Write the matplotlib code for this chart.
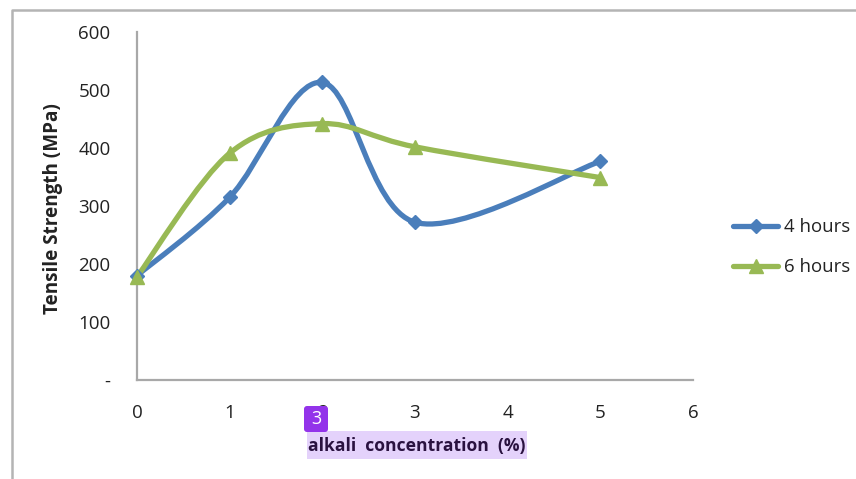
import matplotlib
matplotlib.use("Agg")
import matplotlib.pyplot as plt
from matplotlib.path import Path
from matplotlib.patches import PathPatch, Rectangle, FancyBboxPatch
from matplotlib.lines import Line2D
from matplotlib.transforms import IdentityTransform

plt.rcParams['font.family'] = ['Open Sans', 'DejaVu Sans']

x_values = [0, 1, 2, 3, 5]
hours_4 = [180, 315, 513, 272, 377]
hours_6 = [178, 391, 442, 402, 349]
x_ticks = [0, 1, 2, 3, 4, 5, 6]
y_ticks = [0, 100, 200, 300, 400, 500, 600]
y_tick_labels = ['-', '100', '200', '300', '400', '500', '600']
series_names = ['4 hours', '6 hours']
x_label = 'alkali concentration (%)'
y_label = 'Tensile Strength (MPa)'

BLUE = '#4a7ebb'
GREEN = '#98b954'
W, H = 856, 479

def smooth_path(xs, ys):
    pts = list(zip(xs, ys))
    verts = [pts[0]]
    codes = [Path.MOVETO]
    n = len(pts)
    for i in range(n - 1):
        p0 = pts[max(i - 1, 0)]
        p1 = pts[i]
        p2 = pts[i + 1]
        p3 = pts[min(i + 2, n - 1)]
        c1 = (p1[0] + (p2[0] - p0[0]) / 6, p1[1] + (p2[1] - p0[1]) / 6)
        c2 = (p2[0] - (p3[0] - p1[0]) / 6, p2[1] - (p3[1] - p1[1]) / 6)
        verts += [c1, c2, p2]
        codes += [Path.CURVE4] * 3
    return Path(verts, codes)

fig = plt.figure(figsize=(W / 100, H / 100), dpi=100, facecolor='white')
ax = fig.add_axes([137 / W, 1 - 380 / H, (693 - 137) / W, (380 - 32) / H])
ax.set_xlim(0, 6)
ax.set_ylim(0, 600)
ax.patch.set_alpha(0)

for ys, col, mk, ms in [(hours_4, BLUE, 'D', 7), (hours_6, GREEN, '^', 10)]:
    ax.add_patch(PathPatch(smooth_path(x_values, ys), fill=False, edgecolor=col,
                           lw=3.8, capstyle='round', joinstyle='round', clip_on=False, zorder=3))
    ax.plot(x_values, ys, ls='none', marker=mk, ms=ms, color=col, mec=col,
            clip_on=False, zorder=4)

ax.set_xticks(x_ticks)
ax.set_yticks(y_ticks)
ax.set_yticklabels(y_tick_labels)
ax.tick_params(axis='both', length=0, labelsize=13.5, colors='#222222')
ax.tick_params(axis='x', pad=17)
ax.tick_params(axis='y', pad=19)
for lab in ax.get_xticklabels():
    lab.set_x(lab.get_position()[0])
for s in ['top', 'right']:
    ax.spines[s].set_visible(False)
for s in ['left', 'bottom']:
    ax.spines[s].set_color('#a8a8a8')
    ax.spines[s].set_linewidth(1.6)

# outer chart frame
fig.add_artist(Line2D([11.5 / W, 11.5 / W, 1], [0, 1 - 9.5 / H, 1 - 9.5 / H],
                      color='#b4b4b4', lw=1.8))

# y title
fig.text(53 / W, 1 - 209 / H, y_label, rotation=90, ha='center', va='center',
         fontsize=13.6, fontweight='bold', color='#222222')

# x title with highlight
fig.add_artist(Rectangle((307 / W, 1 - 459 / H), 220 / W, 28 / H,
                         transform=fig.transFigure, facecolor='#e4d2fb', edgecolor='none', zorder=5))
fig.text(416.5 / W, 1 - 446 / H, x_label.replace(' ', '  '), ha='center', va='center',
         fontsize=12.6, fontweight='bold', color='#2a1240', zorder=6)

# annotation badge, in pixel coordinates
badge = FancyBboxPatch((307, H - 429), 18, 20, boxstyle='round,pad=3',
                       transform=IdentityTransform(), facecolor='#9333ea', edgecolor='none', zorder=7)
fig.add_artist(badge)
fig.text(316 / W, 1 - 419 / H, '3', ha='center', va='center', fontsize=13,
         color='white', zorder=8)

# legend
for name, col, mk, ms, ypx in [(series_names[0], BLUE, 'D', 7, 226),
                               (series_names[1], GREEN, '^', 10, 266)]:
    fig.add_artist(Line2D([733 / W, 778 / W], [1 - ypx / H] * 2, color=col, lw=3.8,
                          solid_capstyle='round'))
    fig.add_artist(Line2D([755.5 / W], [1 - ypx / H], marker=mk, ms=ms, color=col, ls='none'))
    fig.text(784 / W, 1 - (ypx + 1) / H, name, ha='left', va='center', fontsize=13.4, color='#222222')

fig.savefig('out.png', dpi=100)
